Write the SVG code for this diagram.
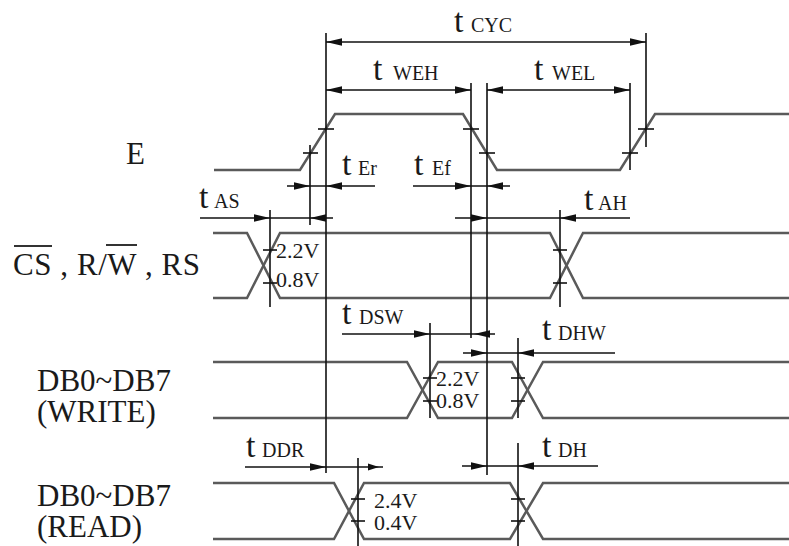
<svg xmlns="http://www.w3.org/2000/svg" xmlns:xlink="http://www.w3.org/1999/xlink" width="789" height="546" viewBox="0 0 789 546">
<style>
.bg{fill:#ffffff}
.wave{fill:none;stroke:#5a5a5a;stroke-width:2.5;stroke-linejoin:miter}
.ref{fill:none;stroke:#111111;stroke-width:1.6}
.dim{fill:none;stroke:#111111;stroke-width:1.6}
.tick{fill:none;stroke:#111111;stroke-width:1.6}
.ov{fill:none;stroke:#333333;stroke-width:2}
.ah{fill:#111111;stroke:none}
.sig{font-family:"Liberation Serif","Times New Roman",serif;font-size:31px;fill:#1a1a1a}
.t{font-family:"Liberation Serif","Times New Roman",serif;font-size:34px;fill:#1a1a1a}
.s{font-family:"Liberation Serif","Times New Roman",serif;font-size:20px;fill:#1a1a1a}
.v{font-family:"Liberation Serif","Times New Roman",serif;font-size:22px;fill:#1a1a1a}
</style>
<defs>
<path id="ar" d="M0,0 L-16,-3.8 L-16,3.8 Z"/>
<path id="al" d="M0,0 L16,-3.8 L16,3.8 Z"/>
<path id="arS" d="M0,0 L-11,-3.5 L-11,3.5 Z"/>
</defs>
<rect class="bg" x="0" y="0" width="789" height="546"/>

<g id="labels">
<text class="sig" x="126" y="164">E</text>
<text class="sig" x="13" y="275" textLength="187" lengthAdjust="spacing">CS , R/W , RS</text>
<line class="ov" x1="14" y1="246" x2="52" y2="246"/>
<line class="ov" x1="106" y1="245" x2="137" y2="245"/>
<text class="sig" x="37" y="391">DB0~DB7</text>
<text class="sig" x="37" y="422">(WRITE)</text>
<text class="sig" x="37" y="506">DB0~DB7</text>
<text class="sig" x="37" y="537">(READ)</text>
</g>

<g id="waveforms">
<path id="wave-E" class="wave" d="M214,170 L300,170 L335,114 L463,114 L497,170 L620,170 L655,114 L789,114"/>
<g id="wave-CS">
<path class="wave" d="M213,233 L247,233 L280,298 L550,298 L583,233 L789,233"/>
<path class="wave" d="M213,298 L247,298 L280,233 L550,233 L583,298 L789,298"/>
</g>
<g id="wave-DBW">
<path class="wave" d="M213,362 L407,362 L438,418 L512,418 L543,362 L789,362"/>
<path class="wave" d="M213,418 L407,418 L438,362 L512,362 L543,418 L789,418"/>
</g>
<g id="wave-DBR">
<path class="wave" d="M213,483 L334,483 L364,539 L510,539 L543,483 L789,483"/>
<path class="wave" d="M213,539 L334,539 L364,483 L510,483 L543,539 L789,539"/>
</g>
</g>

<g id="connectors">
<line class="ref" x1="326" y1="33" x2="326" y2="473"/>
<line class="ref" x1="310" y1="145" x2="310" y2="225"/>
<line class="ref" x1="471" y1="83" x2="471" y2="338"/>
<line class="ref" x1="487" y1="83" x2="487" y2="475"/>
<line class="ref" x1="630" y1="83" x2="630" y2="170"/>
<line class="ref" x1="646" y1="33" x2="646" y2="147"/>
<line class="ref" x1="270" y1="210" x2="270" y2="307"/>
<line class="ref" x1="560" y1="210" x2="560" y2="307"/>
<line class="ref" x1="430" y1="323" x2="430" y2="418"/>
<line class="ref" x1="518" y1="338" x2="518" y2="418"/>
<line class="ref" x1="358" y1="458" x2="358" y2="546"/>
<line class="ref" x1="518" y1="443" x2="518" y2="546"/>

<g id="ticks">
<line class="tick" x1="303" y1="153" x2="318" y2="153"/>
<line class="tick" x1="318" y1="129" x2="334" y2="129"/>
<line class="tick" x1="463" y1="129" x2="479" y2="129"/>
<line class="tick" x1="479" y1="153" x2="495" y2="153"/>
<line class="tick" x1="622" y1="153" x2="638" y2="153"/>
<line class="tick" x1="638" y1="129" x2="654" y2="129"/>
<line class="tick" x1="263" y1="250" x2="277" y2="250"/>
<line class="tick" x1="263" y1="283" x2="277" y2="283"/>
<line class="tick" x1="553" y1="250" x2="567" y2="250"/>
<line class="tick" x1="553" y1="283" x2="567" y2="283"/>
<line class="tick" x1="423" y1="378" x2="437" y2="378"/>
<line class="tick" x1="423" y1="401" x2="437" y2="401"/>
<line class="tick" x1="511" y1="378" x2="525" y2="378"/>
<line class="tick" x1="511" y1="401" x2="525" y2="401"/>
<line class="tick" x1="351" y1="499" x2="365" y2="499"/>
<line class="tick" x1="351" y1="521" x2="365" y2="521"/>
<line class="tick" x1="511" y1="499" x2="525" y2="499"/>
<line class="tick" x1="511" y1="521" x2="525" y2="521"/>
</g>

<g id="dim-tCYC">
<line class="dim" x1="326" y1="42" x2="646" y2="42"/>
<use href="#al" x="326" y="42" class="ah"/>
<use href="#ar" x="646" y="42" class="ah"/>
</g>
<g id="dim-tWEH">
<line class="dim" x1="326" y1="90" x2="471" y2="90"/>
<use href="#al" x="326" y="90" class="ah"/>
<use href="#ar" x="471" y="90" class="ah"/>
</g>
<g id="dim-tWEL">
<line class="dim" x1="487" y1="90" x2="630" y2="90"/>
<use href="#al" x="487" y="90" class="ah"/>
<use href="#ar" x="630" y="90" class="ah"/>
</g>
<g id="dim-tEr">
<line class="dim" x1="287" y1="186" x2="375" y2="186"/>
<use href="#ar" x="310" y="186" class="ah"/>
<use href="#al" x="326" y="186" class="ah"/>
</g>
<g id="dim-tEf">
<line class="dim" x1="413" y1="186" x2="510" y2="186"/>
<use href="#ar" x="471" y="186" class="ah"/>
<use href="#al" x="487" y="186" class="ah"/>
</g>
<g id="dim-tAS">
<line class="dim" x1="200" y1="218" x2="333" y2="218"/>
<use href="#ar" x="270" y="218" class="ah"/>
<use href="#al" x="310" y="218" class="ah"/>
</g>
<g id="dim-tAH">
<line class="dim" x1="455" y1="218" x2="630" y2="218"/>
<use href="#ar" x="487" y="218" class="ah"/>
<use href="#al" x="560" y="218" class="ah"/>
</g>
<g id="dim-tDSW">
<line class="dim" x1="342" y1="334" x2="495" y2="334"/>
<use href="#ar" x="430" y="334" class="ah"/>
<use href="#al" x="474" y="334" class="ah"/>
</g>
<g id="dim-tDHW">
<line class="dim" x1="463" y1="353" x2="615" y2="353"/>
<use href="#ar" x="487" y="353" class="ah"/>
<use href="#al" x="518" y="353" class="ah"/>
</g>
<g id="dim-tDDR">
<line class="dim" x1="245" y1="467" x2="383" y2="467"/>
<use href="#ar" x="326" y="467" class="ah"/>
<use href="#arS" x="379" y="467" class="ah"/>
</g>
<g id="dim-tDH">
<line class="dim" x1="462" y1="466" x2="598" y2="466"/>
<use href="#ar" x="487" y="466" class="ah"/>
<use href="#al" x="518" y="466" class="ah"/>
</g>
</g>

<g id="timing-labels">
<text><tspan class="t" x="454" y="32">t</tspan><tspan class="s" x="471" y="32">CYC</tspan></text>
<text><tspan class="t" x="373" y="80">t</tspan><tspan class="s" x="393" y="80">WEH</tspan></text>
<text><tspan class="t" x="534" y="80">t</tspan><tspan class="s" x="552" y="80">WEL</tspan></text>
<text><tspan class="t" x="342" y="175">t</tspan><tspan class="s" x="358" y="175">Er</tspan></text>
<text><tspan class="t" x="414" y="175">t</tspan><tspan class="s" x="432" y="175">Ef</tspan></text>
<text><tspan class="t" x="199" y="208">t</tspan><tspan class="s" x="214" y="208">AS</tspan></text>
<text><tspan class="t" x="584" y="210">t</tspan><tspan class="s" x="598" y="210">AH</tspan></text>
<text><tspan class="t" x="342" y="324">t</tspan><tspan class="s" x="359" y="324">DSW</tspan></text>
<text><tspan class="t" x="542" y="340">t</tspan><tspan class="s" x="558" y="340">DHW</tspan></text>
<text><tspan class="t" x="246" y="457">t</tspan><tspan class="s" x="262" y="457">DDR</tspan></text>
<text><tspan class="t" x="542" y="457">t</tspan><tspan class="s" x="558" y="457">DH</tspan></text>
</g>

<g id="voltage-labels">
<text class="v" x="276" y="258">2.2V</text>
<text class="v" x="276" y="287">0.8V</text>
<text class="v" x="436" y="386">2.2V</text>
<text class="v" x="436" y="408">0.8V</text>
<text class="v" x="374" y="508">2.4V</text>
<text class="v" x="374" y="530">0.4V</text>
</g>
</svg>
